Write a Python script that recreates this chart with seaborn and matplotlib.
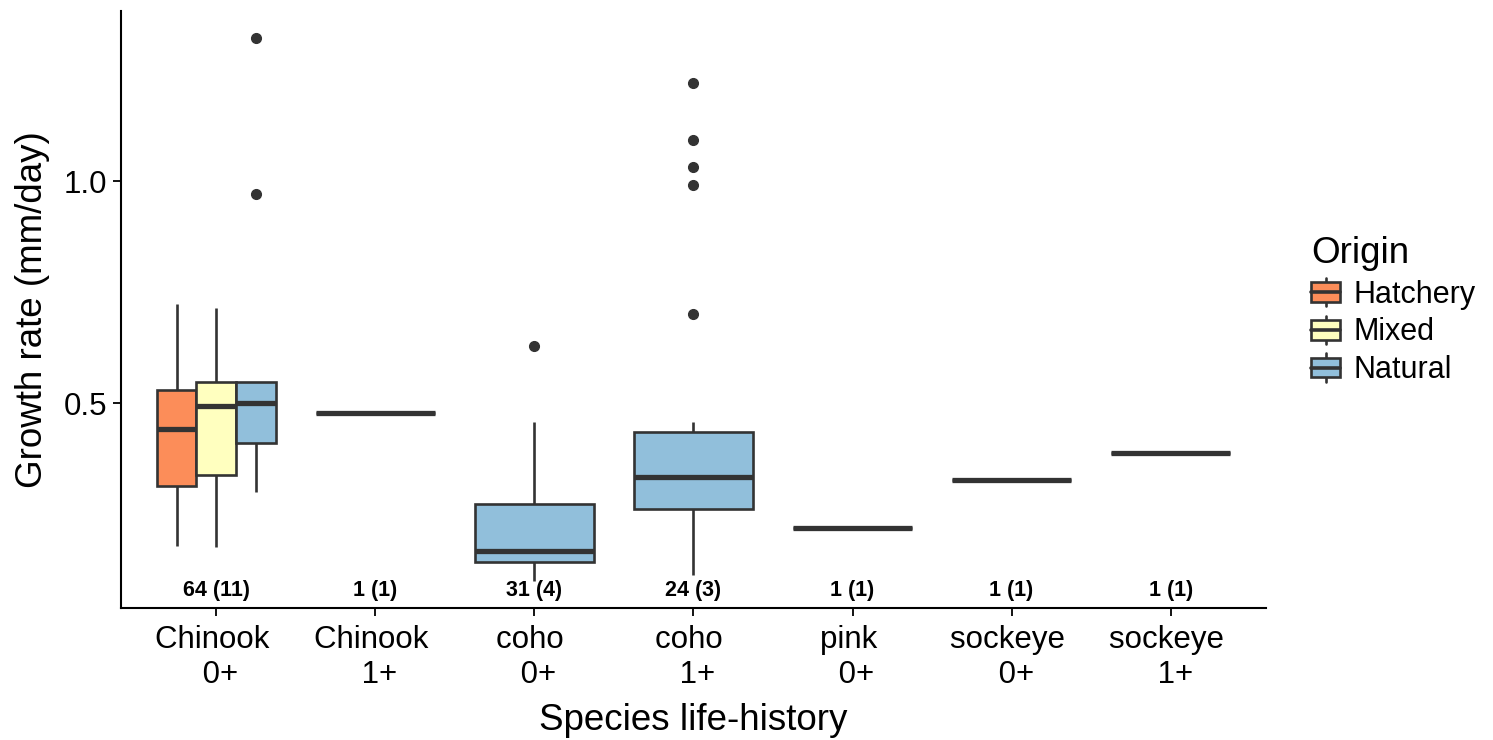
import matplotlib
matplotlib.use("Agg")
import matplotlib.pyplot as plt
import numpy as np
import pandas as pd
import seaborn as sns
from matplotlib.legend_handler import HandlerBase
from matplotlib.patches import Rectangle, Patch
from matplotlib.lines import Line2D

# ---------------- data ----------------
group_keys = ["Chinook 0+", "Chinook 1+", "coho 0+", "coho 1+",
              "pink 0+", "sockeye 0+", "sockeye 1+"]
tick_labels = ["Chinook \n 0+", "Chinook \n 1+", "coho \n 0+", "coho \n 1+",
               "pink \n 0+", "sockeye \n 0+", "sockeye \n 1+"]
count_labels = ["64 (11)", "1 (1)", "31 (4)", "24 (3)", "1 (1)", "1 (1)", "1 (1)"]
origins = ["Hatchery", "Mixed", "Natural"]
origin_colors = ["#FC8D59", "#FFFFBF", "#91BFDB"]

box_group = ["Chinook 0+", "Chinook 0+", "Chinook 0+", "Chinook 1+", "coho 0+",
             "coho 1+", "pink 0+", "sockeye 0+", "sockeye 1+"]
box_origin = ["Hatchery", "Mixed", "Natural", "Natural", "Natural",
              "Natural", "Natural", "Natural", "Natural"]
whisker_low = [0.179, 0.177, 0.300, 0.479, 0.100, 0.114, 0.220, 0.328, 0.389]
quart_1 = [0.314, 0.339, 0.411, 0.479, 0.143, 0.262, 0.220, 0.328, 0.389]
median_v = [0.443, 0.493, 0.500, 0.479, 0.168, 0.334, 0.220, 0.328, 0.389]
quart_3 = [0.531, 0.549, 0.549, 0.479, 0.274, 0.435, 0.220, 0.328, 0.389]
whisker_high = [0.723, 0.714, 0.549, 0.479, 0.457, 0.457, 0.220, 0.328, 0.389]
outliers = [[], [], [0.971, 1.322], [], [0.629],
            [0.700, 0.990, 1.031, 1.092, 1.221], [], [], []]


def sample_from_summary(lo, q1, md, q3, hi, outs):
    k = len(outs)
    a = k + 1
    return [lo] * a + [q1] * a + [md] + [q3] * a + [hi] + list(outs)


rows = []
for g, o, lo, a1, md, a3, hi, outs in zip(box_group, box_origin, whisker_low, quart_1,
                                         median_v, quart_3, whisker_high, outliers):
    for v in sample_from_summary(lo, a1, md, a3, hi, outs):
        rows.append({"group": g, "origin": o, "rate": v})
df = pd.DataFrame(rows)

# ---------------- styling ----------------
sns.set_style("ticks")
plt.rcParams["font.family"] = ["Liberation Sans", "DejaVu Sans"]
plt.rcParams["text.color"] = "black"
plt.rcParams["axes.labelcolor"] = "black"
DARK = "#333333"

fig = plt.figure(figsize=(14.93, 7.40), dpi=100)
ax = fig.add_axes([0.081, 0.178, 0.767, 0.8075])

common = dict(x="group", y="rate", hue="origin", order=group_keys,
              hue_order=origins, palette=dict(zip(origins, origin_colors)),
              saturation=1, linecolor=DARK, linewidth=1.9, fliersize=7,
              width=0.75, legend=False, ax=ax,
              medianprops=dict(linewidth=3.8, color=DARK),
              flierprops=dict(marker="o", markerfacecolor=DARK,
                              markeredgecolor=DARK, markeredgewidth=1),
              capprops=dict(visible=False))

sns.boxplot(data=df[df["group"] == "Chinook 0+"], dodge=True, **common)
sns.boxplot(data=df[df["group"] != "Chinook 0+"], dodge=False, **common)

for i, lab in enumerate(count_labels):
    ax.text(i, 0.078, lab, ha="center", va="center", fontsize=15.5,
            fontweight="bold", color="black")

ax.set_xlim(-0.6, 6.6)
ax.set_ylim(0.039, 1.383)
ax.set_yticks([0.5, 1.0])
ax.set_yticklabels(["0.5", "1.0"])
ax.set_xticks(range(len(group_keys)))
ax.set_xticklabels(tick_labels)
ax.tick_params(axis="both", length=6, width=1.3, color="black",
               labelsize=22.5, labelcolor="black", pad=4)
ax.tick_params(axis="x", pad=6)
for s in ["left", "bottom"]:
    ax.spines[s].set_linewidth(1.5)
    ax.spines[s].set_color("black")
sns.despine(ax=ax)
ax.set_xlabel("Species life-history", fontsize=26.5, labelpad=10, color="black")
ax.set_ylabel("Growth rate (mm/day)", fontsize=26.5, labelpad=10, color="black")


class BoxKeyHandler(HandlerBase):
    def create_artists(self, legend, orig_handle, xdescent, ydescent,
                       width, height, fontsize, trans):
        x0, y0 = -xdescent, -ydescent
        fc = orig_handle.get_facecolor()
        bh = 0.7 * height
        by = y0 + (height - bh) / 2
        rect = Rectangle((x0, by), width, bh, facecolor=fc, edgecolor=DARK,
                         linewidth=1.9, transform=trans)
        med = Line2D([x0, x0 + width], [y0 + height / 2] * 2, color=DARK,
                     linewidth=2.6, transform=trans)
        w1 = Line2D([x0 + width / 2] * 2, [y0, by], color=DARK, linewidth=1.9,
                    transform=trans)
        w2 = Line2D([x0 + width / 2] * 2, [by + bh, y0 + height], color=DARK,
                    linewidth=1.9, transform=trans)
        return [w1, w2, rect, med]


handles = [Patch(facecolor=c, edgecolor=DARK) for c in origin_colors]
leg = fig.legend(handles, origins, loc="upper left",
                 bbox_to_anchor=(1311 / 1493, 1 - 236 / 740),
                 frameon=False, fontsize=22, title="Origin",
                 title_fontsize=26.5, handlelength=0.95, handleheight=1.05,
                 handletextpad=0.45, labelspacing=0.2, borderpad=0,
                 borderaxespad=0, alignment="left",
                 handler_map={Patch: BoxKeyHandler()})
leg._legend_box.sep = 5
leg.get_title().set_color("black")
for t in leg.get_texts():
    t.set_color("black")

fig.savefig("out.png", dpi=100)
